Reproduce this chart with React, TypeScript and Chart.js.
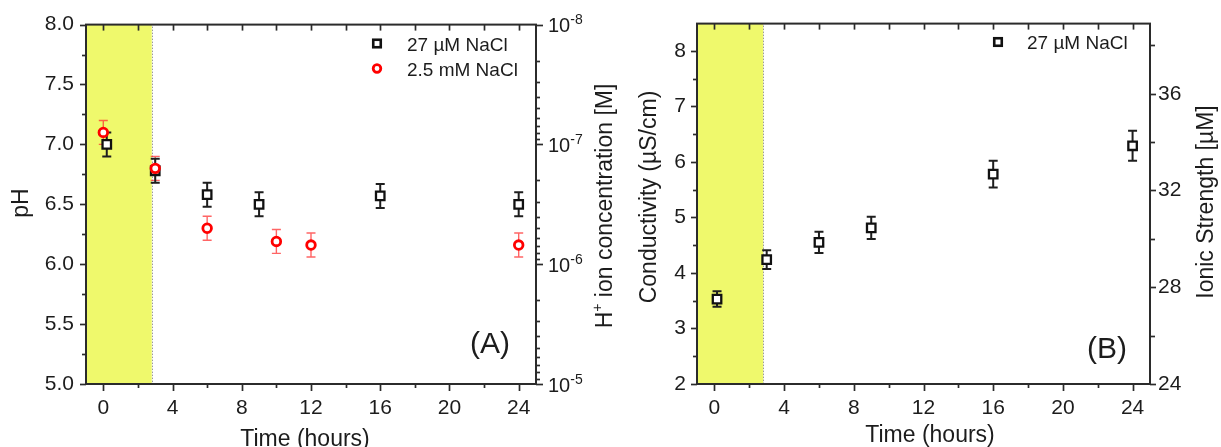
import React, { useEffect, useRef } from "react";
import { Chart, registerables } from "chart.js";

Chart.register(...registerables);

const FONT = "'Liberation Sans', Arial, Helvetica, sans-serif";
const TEXT = "#1c1c1c";
const FRAME = "#2b2b2b";
const BAND = "#EFF96C";

// ---------- Panel A data ----------
const legend27 = "27 µM NaCl";
const legend25 = "2.5 mM NaCl";
const timeA27 = [0.2, 3, 6, 9, 16, 24];
const pH27 = [7.0, 6.78, 6.58, 6.5, 6.57, 6.5];
const pH27Err = [0.1, 0.1, 0.1, 0.1, 0.1, 0.1];
const timeA25 = [0, 3, 6, 10, 12, 24];
const pH25 = [7.1, 6.8, 6.3, 6.19, 6.16, 6.16];
const pH25Err = [0.1, 0.1, 0.1, 0.1, 0.1, 0.1];

// ---------- Panel B data ----------
const timeB = [0.15, 3, 6, 9, 16, 24];
const conductivity = [3.53, 4.24, 4.55, 4.81, 5.78, 6.29];
const conductivityErr = [0.14, 0.17, 0.19, 0.2, 0.24, 0.27];

// ---------- ticks ----------
const timeTicks = [0, 4, 8, 12, 16, 20, 24];
const timeMinorTicks = [2, 6, 10, 14, 18, 22];
const pHTicks = [5.0, 5.5, 6.0, 6.5, 7.0, 7.5, 8.0];
const pHMinorTicks = [5.25, 5.75, 6.25, 6.75, 7.25, 7.75];
const hTicks = [1e-8, 1e-7, 1e-6, 1e-5];
const hTickExponents = ["-8", "-7", "-6", "-5"];
const hDecades = [-8, -7, -6];
const hMinorMantissas = [2, 3, 4, 5, 6, 7, 8, 9];
const condTicks = [2, 3, 4, 5, 6, 7, 8];
const condMinorTicks = [2.5, 3.5, 4.5, 5.5, 6.5, 7.5];
const ionicTicks = [24, 28, 32, 36];
const ionicMinorTicks = [26, 30, 34, 38];

const timeRange = [-1, 25];
const pHRange = [5, 8];
const hRange = [1e-8, 1e-5];
const condRange = [2, 8.49];
const ionicRange = [24, 38.9];
const bandStart = -1;
const bandEnd = 2.8;

const B_OFFSET = 618; // left of panel B canvas on the page

type Part = { t: string; size: number; dy?: number };

function drawParts(ctx: CanvasRenderingContext2D, parts: Part[], x: number, y: number, align: "left" | "center" | "right", rot = 0) {
  ctx.save();
  ctx.translate(x, y);
  if (rot) ctx.rotate(rot);
  ctx.textBaseline = "alphabetic";
  ctx.textAlign = "left";
  let total = 0;
  const widths = parts.map((p) => {
    ctx.font = `${p.size}px ${FONT}`;
    const w = ctx.measureText(p.t).width;
    total += w;
    return w;
  });
  let cx = align === "left" ? 0 : align === "center" ? -total / 2 : -total;
  parts.forEach((p, i) => {
    ctx.font = `${p.size}px ${FONT}`;
    ctx.fillStyle = TEXT;
    ctx.fillText(p.t, cx, p.dy || 0);
    cx += widths[i];
  });
  ctx.restore();
}

function vTicks(ctx: CanvasRenderingContext2D, scale: any, values: number[], xAxis: number, len: number, dir: number) {
  values.forEach((v) => {
    const y = Math.round(scale.getPixelForValue(v)) + 0.5;
    ctx.beginPath();
    ctx.moveTo(xAxis, y);
    ctx.lineTo(xAxis + dir * len, y);
    ctx.stroke();
  });
}

function hTicksDraw(ctx: CanvasRenderingContext2D, scale: any, values: number[], yAxis: number, len: number, dir: number) {
  values.forEach((v) => {
    const x = Math.round(scale.getPixelForValue(v)) + 0.5;
    ctx.beginPath();
    ctx.moveTo(x, yAxis);
    ctx.lineTo(x, yAxis + dir * len);
    ctx.stroke();
  });
}

function drawBandAndErrors(chart: any) {
  const { ctx, chartArea, scales } = chart;
  const { top, bottom } = chartArea;
  const xs = scales.x;
  const ys = scales.y;
  const x0 = xs.getPixelForValue(bandStart);
  const x1 = xs.getPixelForValue(bandEnd);
  ctx.save();
  ctx.fillStyle = BAND;
  ctx.fillRect(x0, top, x1 - x0, bottom - top);
  ctx.strokeStyle = "#9a9a9a";
  ctx.lineWidth = 1;
  ctx.setLineDash([1.5, 1.5]);
  ctx.beginPath();
  ctx.moveTo(Math.round(x1) + 0.5, top + 2);
  ctx.lineTo(Math.round(x1) + 0.5, bottom);
  ctx.stroke();
  ctx.setLineDash([]);
  chart.data.datasets.forEach((ds: any) => {
    const errs: number[] = ds.errors || [];
    ctx.strokeStyle = ds.errColor;
    ctx.lineWidth = ds.errWidth;
    ds.data.forEach((p: any, j: number) => {
      const e = errs[j] || 0;
      const px = xs.getPixelForValue(p.x);
      const yt = ys.getPixelForValue(p.y + e);
      const yb = ys.getPixelForValue(p.y - e);
      ctx.beginPath();
      ctx.moveTo(px, yt);
      ctx.lineTo(px, yb);
      ctx.moveTo(px - 4.5, yt);
      ctx.lineTo(px + 4.5, yt);
      ctx.moveTo(px - 4.5, yb);
      ctx.lineTo(px + 4.5, yb);
      ctx.stroke();
    });
  });
  ctx.restore();
}

function drawFrameAndXTicks(chart: any) {
  const { ctx, chartArea, scales } = chart;
  const { left, right, top, bottom } = chartArea;
  ctx.save();
  ctx.strokeStyle = FRAME;
  ctx.lineWidth = 2;
  ctx.strokeRect(left, top, right - left, bottom - top);
  ctx.lineWidth = 1.7;
  hTicksDraw(ctx, scales.x, timeTicks, bottom, 7, 1);
  hTicksDraw(ctx, scales.x, timeMinorTicks, bottom, 4, 1);
  hTicksDraw(ctx, scales.x, timeTicks, top, 6, 1);
  hTicksDraw(ctx, scales.x, timeMinorTicks, top, 6, 1);
  ctx.restore();
}

function drawSquare(ctx: CanvasRenderingContext2D, x: number, y: number, s: number) {
  ctx.save();
  ctx.fillStyle = "#fff";
  ctx.strokeStyle = "#111";
  ctx.lineWidth = 2.6;
  ctx.fillRect(x - s / 2, y - s / 2, s, s);
  ctx.strokeRect(x - s / 2, y - s / 2, s, s);
  ctx.restore();
}

function drawCircle(ctx: CanvasRenderingContext2D, x: number, y: number, r: number) {
  ctx.save();
  ctx.fillStyle = "#fff";
  ctx.strokeStyle = "#ff0000";
  ctx.lineWidth = 2.8;
  ctx.beginPath();
  ctx.arc(x, y, r, 0, Math.PI * 2);
  ctx.fill();
  ctx.stroke();
  ctx.restore();
}

const panelAPlugin = {
  id: "panelA",
  beforeDatasetsDraw(chart: any) {
    drawBandAndErrors(chart);
  },
  afterDraw(chart: any) {
    const { ctx, chartArea, scales } = chart;
    const { left, right } = chartArea;
    drawFrameAndXTicks(chart);
    ctx.save();
    ctx.strokeStyle = FRAME;
    ctx.lineWidth = 1.7;
    vTicks(ctx, scales.y, pHTicks, left, 6, -1);
    vTicks(ctx, scales.y, pHMinorTicks, left, 4, -1);
    vTicks(ctx, scales.y2, hTicks, right, 7, 1);
    const minor: number[] = [];
    hDecades.forEach((d) => hMinorMantissas.forEach((m) => minor.push(m * Math.pow(10, d))));
    vTicks(ctx, scales.y2, minor, right, 4, 1);
    ctx.restore();
    hTicks.forEach((v, i) => {
      const y = scales.y2.getPixelForValue(v);
      drawParts(ctx, [{ t: "10", size: 20 }, { t: hTickExponents[i], size: 14, dy: -8 }], right + 12, y + 7.5, "left");
    });
    // titles
    drawParts(ctx, [{ t: "pH", size: 23 }], 28, 203, "center", -Math.PI / 2);
    drawParts(ctx, [{ t: "Time (hours)", size: 23 }], 305, 446, "center");
    drawParts(
      ctx,
      [{ t: "H", size: 23 }, { t: "+", size: 14, dy: -10 }, { t: " ion concentration [M]", size: 23 }],
      612,
      206,
      "center",
      -Math.PI / 2
    );
    // legend
    drawSquare(ctx, 377, 43.5, 7.5);
    drawParts(ctx, [{ t: legend27, size: 19 }], 407, 51, "left");
    drawCircle(ctx, 377, 68.5, 3.8);
    drawParts(ctx, [{ t: legend25, size: 19 }], 407, 76, "left");
    // panel label
    drawParts(ctx, [{ t: "(A)", size: 30 }], 490, 353, "center");
  },
};

const panelBPlugin = {
  id: "panelB",
  beforeDatasetsDraw(chart: any) {
    drawBandAndErrors(chart);
  },
  afterDraw(chart: any) {
    const { ctx, chartArea, scales } = chart;
    const { left, right } = chartArea;
    drawFrameAndXTicks(chart);
    ctx.save();
    ctx.strokeStyle = FRAME;
    ctx.lineWidth = 1.7;
    vTicks(ctx, scales.y, condTicks, left, 6, -1);
    vTicks(ctx, scales.y, condMinorTicks, left, 4, -1);
    vTicks(ctx, scales.y2, ionicTicks, right, 6, 1);
    vTicks(ctx, scales.y2, ionicMinorTicks, right, 5, 1);
    ctx.restore();
    drawParts(ctx, [{ t: "Conductivity (µS/cm)", size: 23 }], 656 - B_OFFSET, 197, "center", -Math.PI / 2);
    drawParts(ctx, [{ t: "Time (hours)", size: 23 }], 930 - B_OFFSET, 442, "center");
    drawParts(ctx, [{ t: "Ionic Strength [µM]", size: 23 }], 1213 - B_OFFSET, 202, "center", -Math.PI / 2);
    drawSquare(ctx, 998 - B_OFFSET, 42, 7.5);
    drawParts(ctx, [{ t: legend27, size: 19 }], 1027 - B_OFFSET, 49, "left");
    drawParts(ctx, [{ t: "(B)", size: 30 }], 1107 - B_OFFSET, 358, "center");
  },
};

function tickFont(size: number) {
  return { family: FONT, size };
}

function baseScale(range: number[], major: number[] | null, size: { w?: number; h?: number }, padding: number, extra: any = {}) {
  return {
    type: "linear",
    min: range[0],
    max: range[1],
    grid: { display: false, drawTicks: false, tickLength: 0 },
    border: { display: false },
    afterBuildTicks: major ? (s: any) => { s.ticks = major.map((v) => ({ value: v })); } : undefined,
    afterFit: (s: any) => {
      if (size.w !== undefined) s.width = size.w;
      if (size.h !== undefined) s.height = size.h;
    },
    ticks: { padding, font: tickFont(21), color: TEXT, autoSkip: false, maxRotation: 0, ...(extra.ticks || {}) },
    ...extra.rest,
  };
}

function buildA(canvas: HTMLCanvasElement) {
  return new Chart(canvas, {
    type: "scatter",
    data: {
      datasets: [
        {
          label: legend25,
          data: timeA25.map((x, i) => ({ x, y: pH25[i] })),
          pointStyle: "circle",
          pointRadius: 4.3,
          borderColor: "#ff0000",
          backgroundColor: "#ffffff",
          borderWidth: 2.8,
          order: 0,
          errors: pH25Err,
          errColor: "rgba(255,50,50,0.75)",
          errWidth: 1.4,
        } as any,
        {
          label: legend27,
          data: timeA27.map((x, i) => ({ x, y: pH27[i] })),
          pointStyle: "rect",
          pointRadius: 6,
          borderColor: "#111111",
          backgroundColor: "#ffffff",
          borderWidth: 2.3,
          order: 1,
          errors: pH27Err,
          errColor: "#1e1e1e",
          errWidth: 2,
        } as any,
      ],
    },
    options: {
      responsive: false,
      animation: false,
      layout: { padding: { top: 23, left: 0, right: 0, bottom: 0 } },
      plugins: { legend: { display: false }, tooltip: { enabled: false } },
      scales: {
        x: { ...baseScale(timeRange, timeTicks, { h: 63 }, 12), position: "bottom" } as any,
        y: {
          ...baseScale(pHRange, pHTicks, { w: 86 }, 12, { ticks: { callback: (v: any) => Number(v).toFixed(1) } }),
          position: "left",
        } as any,
        y2: {
          type: "logarithmic",
          position: "right",
          min: hRange[0],
          max: hRange[1],
          reverse: true,
          grid: { display: false, drawTicks: false },
          border: { display: false },
          ticks: { display: false },
          afterFit: (s: any) => { s.width = 82; },
        } as any,
      },
    },
    plugins: [panelAPlugin as any],
  });
}

function buildB(canvas: HTMLCanvasElement) {
  return new Chart(canvas, {
    type: "scatter",
    data: {
      datasets: [
        {
          label: legend27,
          data: timeB.map((x, i) => ({ x, y: conductivity[i] })),
          pointStyle: "rect",
          pointRadius: 6,
          borderColor: "#111111",
          backgroundColor: "#ffffff",
          borderWidth: 2.3,
          errors: conductivityErr,
          errColor: "#1e1e1e",
          errWidth: 2,
        } as any,
      ],
    },
    options: {
      responsive: false,
      animation: false,
      layout: { padding: { top: 20, left: 0, right: 0, bottom: 0 } },
      plugins: { legend: { display: false }, tooltip: { enabled: false } },
      scales: {
        x: { ...baseScale(timeRange, timeTicks, { h: 63 }, 12), position: "bottom" } as any,
        y: { ...baseScale(condRange, condTicks, { w: 79 }, 11), position: "left" } as any,
        y2: { ...baseScale(ionicRange, ionicTicks, { w: 71 }, 8), position: "right" } as any,
      },
    },
    plugins: [panelBPlugin as any],
  });
}

export default function App() {
  const refA = useRef<HTMLCanvasElement>(null);
  const refB = useRef<HTMLCanvasElement>(null);
  useEffect(() => {
    const a = buildA(refA.current!);
    const b = buildB(refB.current!);
    return () => {
      a.destroy();
      b.destroy();
    };
  }, []);
  return (
    <div style={{ position: "absolute", left: 0, top: 0, width: 1221, height: 447, overflow: "hidden", background: "#fff" }}>
      <canvas ref={refA} width={B_OFFSET} height={447} style={{ position: "absolute", left: 0, top: 0, width: B_OFFSET, height: 447 }} />
      <canvas ref={refB} width={1221 - B_OFFSET} height={447} style={{ position: "absolute", left: B_OFFSET, top: 0, width: 1221 - B_OFFSET, height: 447 }} />
    </div>
  );
}
